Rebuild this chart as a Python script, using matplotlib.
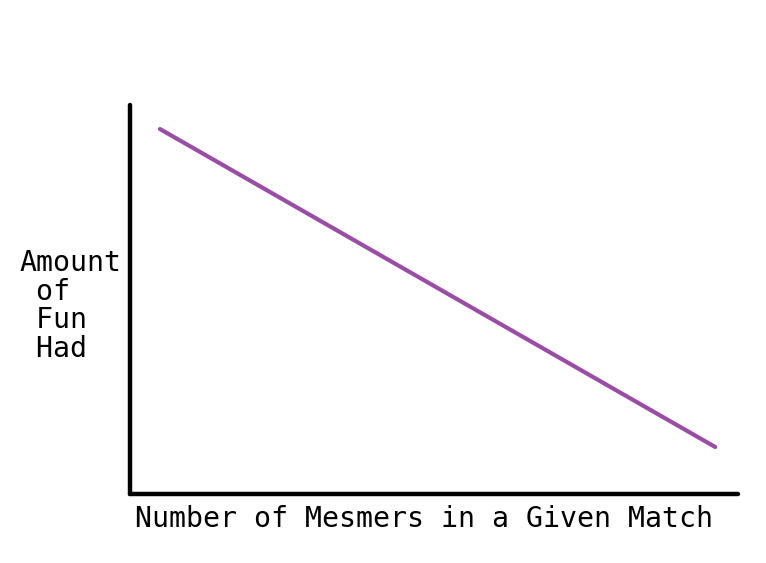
import matplotlib
matplotlib.use("Agg")
import matplotlib.pyplot as plt

# data (arbitrary units, the joke chart has no ticks)
mesmers = [0, 10]
fun_had = [10, 1]

x_label = "Number of Mesmers in a Given Match"
y_label = "Amount\n of\n Fun\n Had"

W, H = 766, 563
fig = plt.figure(figsize=(W / 100, H / 100), dpi=100)
ax = fig.add_axes([130 / W, (H - 494) / H, (738 - 130) / W, (494 - 105) / H])

ax.plot(mesmers, fun_had, color="#9b4ca6", linewidth=3.0, solid_capstyle="round")

ax.set_xlim(-0.54, 10.41)
ax.set_ylim(-0.33, 10.68)

for side in ["top", "right"]:
    ax.spines[side].set_visible(False)
for side in ["left", "bottom"]:
    ax.spines[side].set_linewidth(3.2)
    ax.spines[side].set_color("black")
    ax.spines[side].set_capstyle("round")
ax.set_xticks([])
ax.set_yticks([])

font = dict(family="DejaVu Sans Mono", fontsize=20.3, color="black")
fig.text(424 / W, 1 - 519 / H, x_label, ha="center", va="center", **font)
fig.text(19 / W, 1 - 306 / H, y_label, ha="left", va="center",
         multialignment="left", linespacing=1.03, **font)

fig.savefig("out.png", dpi=100)
